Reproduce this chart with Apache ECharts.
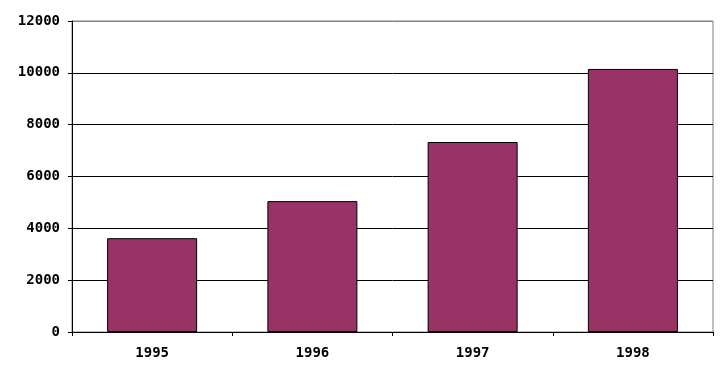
<!DOCTYPE html>
<html><head><meta charset="utf-8">
<script src="https://cdn.jsdelivr.net/npm/echarts@6/dist/echarts.min.js"></script>
<style>html,body{margin:0;padding:0;background:#fff}#c{width:725px;height:374px}</style>
</head><body><div id="c"></div>
<script>
const categories = ['1995', '1996', '1997', '1998'];
const values = [3620, 5050, 7330, 10150];
const yTicks = [0, 2000, 4000, 6000, 8000, 10000, 12000];

const font = {fontFamily: 'DejaVu Sans Mono', fontWeight: 'bold', fontSize: 14, color: '#000'};
const chart = echarts.init(document.getElementById('c'), null, {renderer: 'canvas'});
chart.setOption({
  animation: false,
  grid: {left: 72, right: 12, top: 21, bottom: 42, show: true, borderColor: '#808080', borderWidth: 1, backgroundColor: 'transparent'},
  xAxis: {
    type: 'category', data: categories,
    axisLine: {lineStyle: {color: '#000', width: 1}},
    axisTick: {show: true, length: 4, lineStyle: {color: '#000'}},
    axisLabel: Object.assign({margin: 14}, font),
    splitLine: {show: false}
  },
  yAxis: {
    type: 'value', min: yTicks[0], max: yTicks[yTicks.length - 1], interval: 2000,
    axisLine: {show: true, lineStyle: {color: '#000', width: 1}},
    axisTick: {show: true, length: 4, lineStyle: {color: '#000'}},
    axisLabel: Object.assign({margin: 12, formatter: v => String(v)}, font),
    splitLine: {show: true, lineStyle: {color: ['#000', '#000', '#000', '#000', '#000', '#000', '#808080'], width: 1}}
  },
  series: [{
    type: 'bar', data: values, barWidth: 90,
    itemStyle: {color: '#993366', borderColor: '#000', borderWidth: 1}
  }]
});
</script></body></html>
